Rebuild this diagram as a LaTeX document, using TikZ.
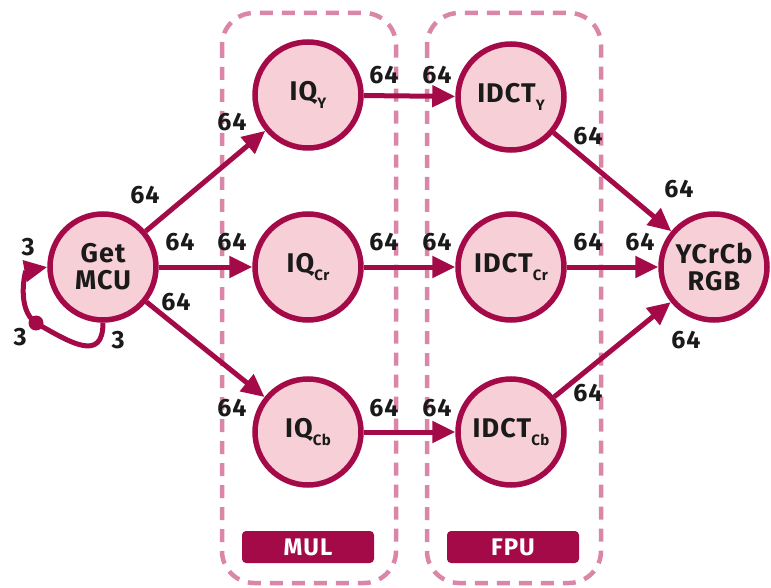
\documentclass[tikz,border=0pt]{standalone}
\usepackage{fontspec}
\setmainfont{Fira Sans}[LetterSpace=4]
\usetikzlibrary{arrows.meta}
\definecolor{crimson}{HTML}{A50A48}
\definecolor{blush}{HTML}{F7CFD7}
\definecolor{rosedash}{HTML}{D986A8}
\definecolor{ink}{HTML}{1A1A1A}
\newcommand{\lowtag}[1]{\raisebox{-0.3em}{\fontsize{15}{15}\selectfont #1}}

\begin{document}
\begin{tikzpicture}[x=1pt, y=-1pt,
  stage/.style={circle, draw=crimson, fill=blush, line width=5.5pt, minimum size=106pt,
    inner sep=0pt, align=center, text=ink, font=\fontsize{27}{27}\selectfont\bfseries},
  edge/.style={draw=crimson, line width=5pt, -{Triangle[length=23pt,width=21pt]}},
  rate/.style={text=ink, font=\fontsize{25}{25}\selectfont\bfseries, inner sep=0pt},
  unitbox/.style={draw=rosedash, line width=4.5pt, dash pattern=on 13pt off 9pt,
    rounded corners=32pt},
  unittag/.style={fill=crimson, rounded corners=4pt, minimum width=132pt, minimum height=32pt,
    text=white, inner sep=0pt, font=\fontsize{24}{24}\selectfont\bfseries}]

\useasboundingbox (0, 0) rectangle (771, 588);

% processing units
\draw[unitbox] (222, 13) rectangle (396, 583);
\draw[unitbox] (427, 13) rectangle (601, 583);
\node[unittag] (mul) at (308, 547) {MUL};
\node[unittag] (fpu) at (513, 547) {FPU};

% actors
\node[stage] (mcu) at (103, 267) {Get\\MCU};
\node[stage] (iqy) at (308, 95) {IQ\lowtag{Y}};
\node[stage] (iqcr) at (308, 267) {IQ\lowtag{Cr}};
\node[stage] (iqcb) at (308, 432) {IQ\lowtag{Cb}};
\node[stage] (idcty) at (511, 97) {IDCT\lowtag{Y}};
\node[stage] (idctcr) at (511, 267) {IDCT\lowtag{Cr}};
\node[stage] (idctcb) at (511, 432) {IDCT\lowtag{Cb}};
\node[stage] (rgb) at (714, 267) {YCrCb\\RGB};

% channels
\draw[edge] (mcu) -- (iqy);
\draw[edge] (mcu) -- (iqcr);
\draw[edge] (mcu) -- (iqcb);
\draw[edge] (iqy) -- (idcty);
\draw[edge] (iqcr) -- (idctcr);
\draw[edge] (iqcb) -- (idctcb);
\draw[edge] (idcty) -- (rgb);
\draw[edge] (idctcr) -- (rgb);
\draw[edge] (idctcb) -- (rgb);

% self loop
\coordinate (knot) at (36, 323);
\draw[edge] (mcu.south) .. controls +(0, 40) and +(35, 20) .. (knot)
  .. controls +(-20, -14) and +(-22, 4) .. (mcu.west);
\fill[crimson] (knot) circle (7.5pt);

% rates
\node[rate] (r1) at (28, 247) {3};
\node[rate] (r2) at (20, 337) {3};
\node[rate] (r3) at (118, 340) {3};
\node[rate] (r4) at (145, 195) {64};
\node[rate] (r5) at (232, 122) {64};
\node[rate] (r6) at (180, 242) {64};
\node[rate] (r7) at (232, 242) {64};
\node[rate] (r8) at (176, 302) {64};
\node[rate] (r9) at (232, 408) {64};
\node[rate] (r10) at (384, 75) {64};
\node[rate] (r11) at (437, 75) {64};
\node[rate] (r12) at (384, 242) {64};
\node[rate] (r13) at (437, 242) {64};
\node[rate] (r14) at (384, 408) {64};
\node[rate] (r15) at (437, 408) {64};
\node[rate] (r16) at (588, 136) {64};
\node[rate] (r17) at (679, 189) {64};
\node[rate] (r18) at (588, 242) {64};
\node[rate] (r19) at (640, 242) {64};
\node[rate] (r20) at (588, 393) {64};
\node[rate] (r21) at (686, 340) {64};

\end{tikzpicture}
\end{document}
